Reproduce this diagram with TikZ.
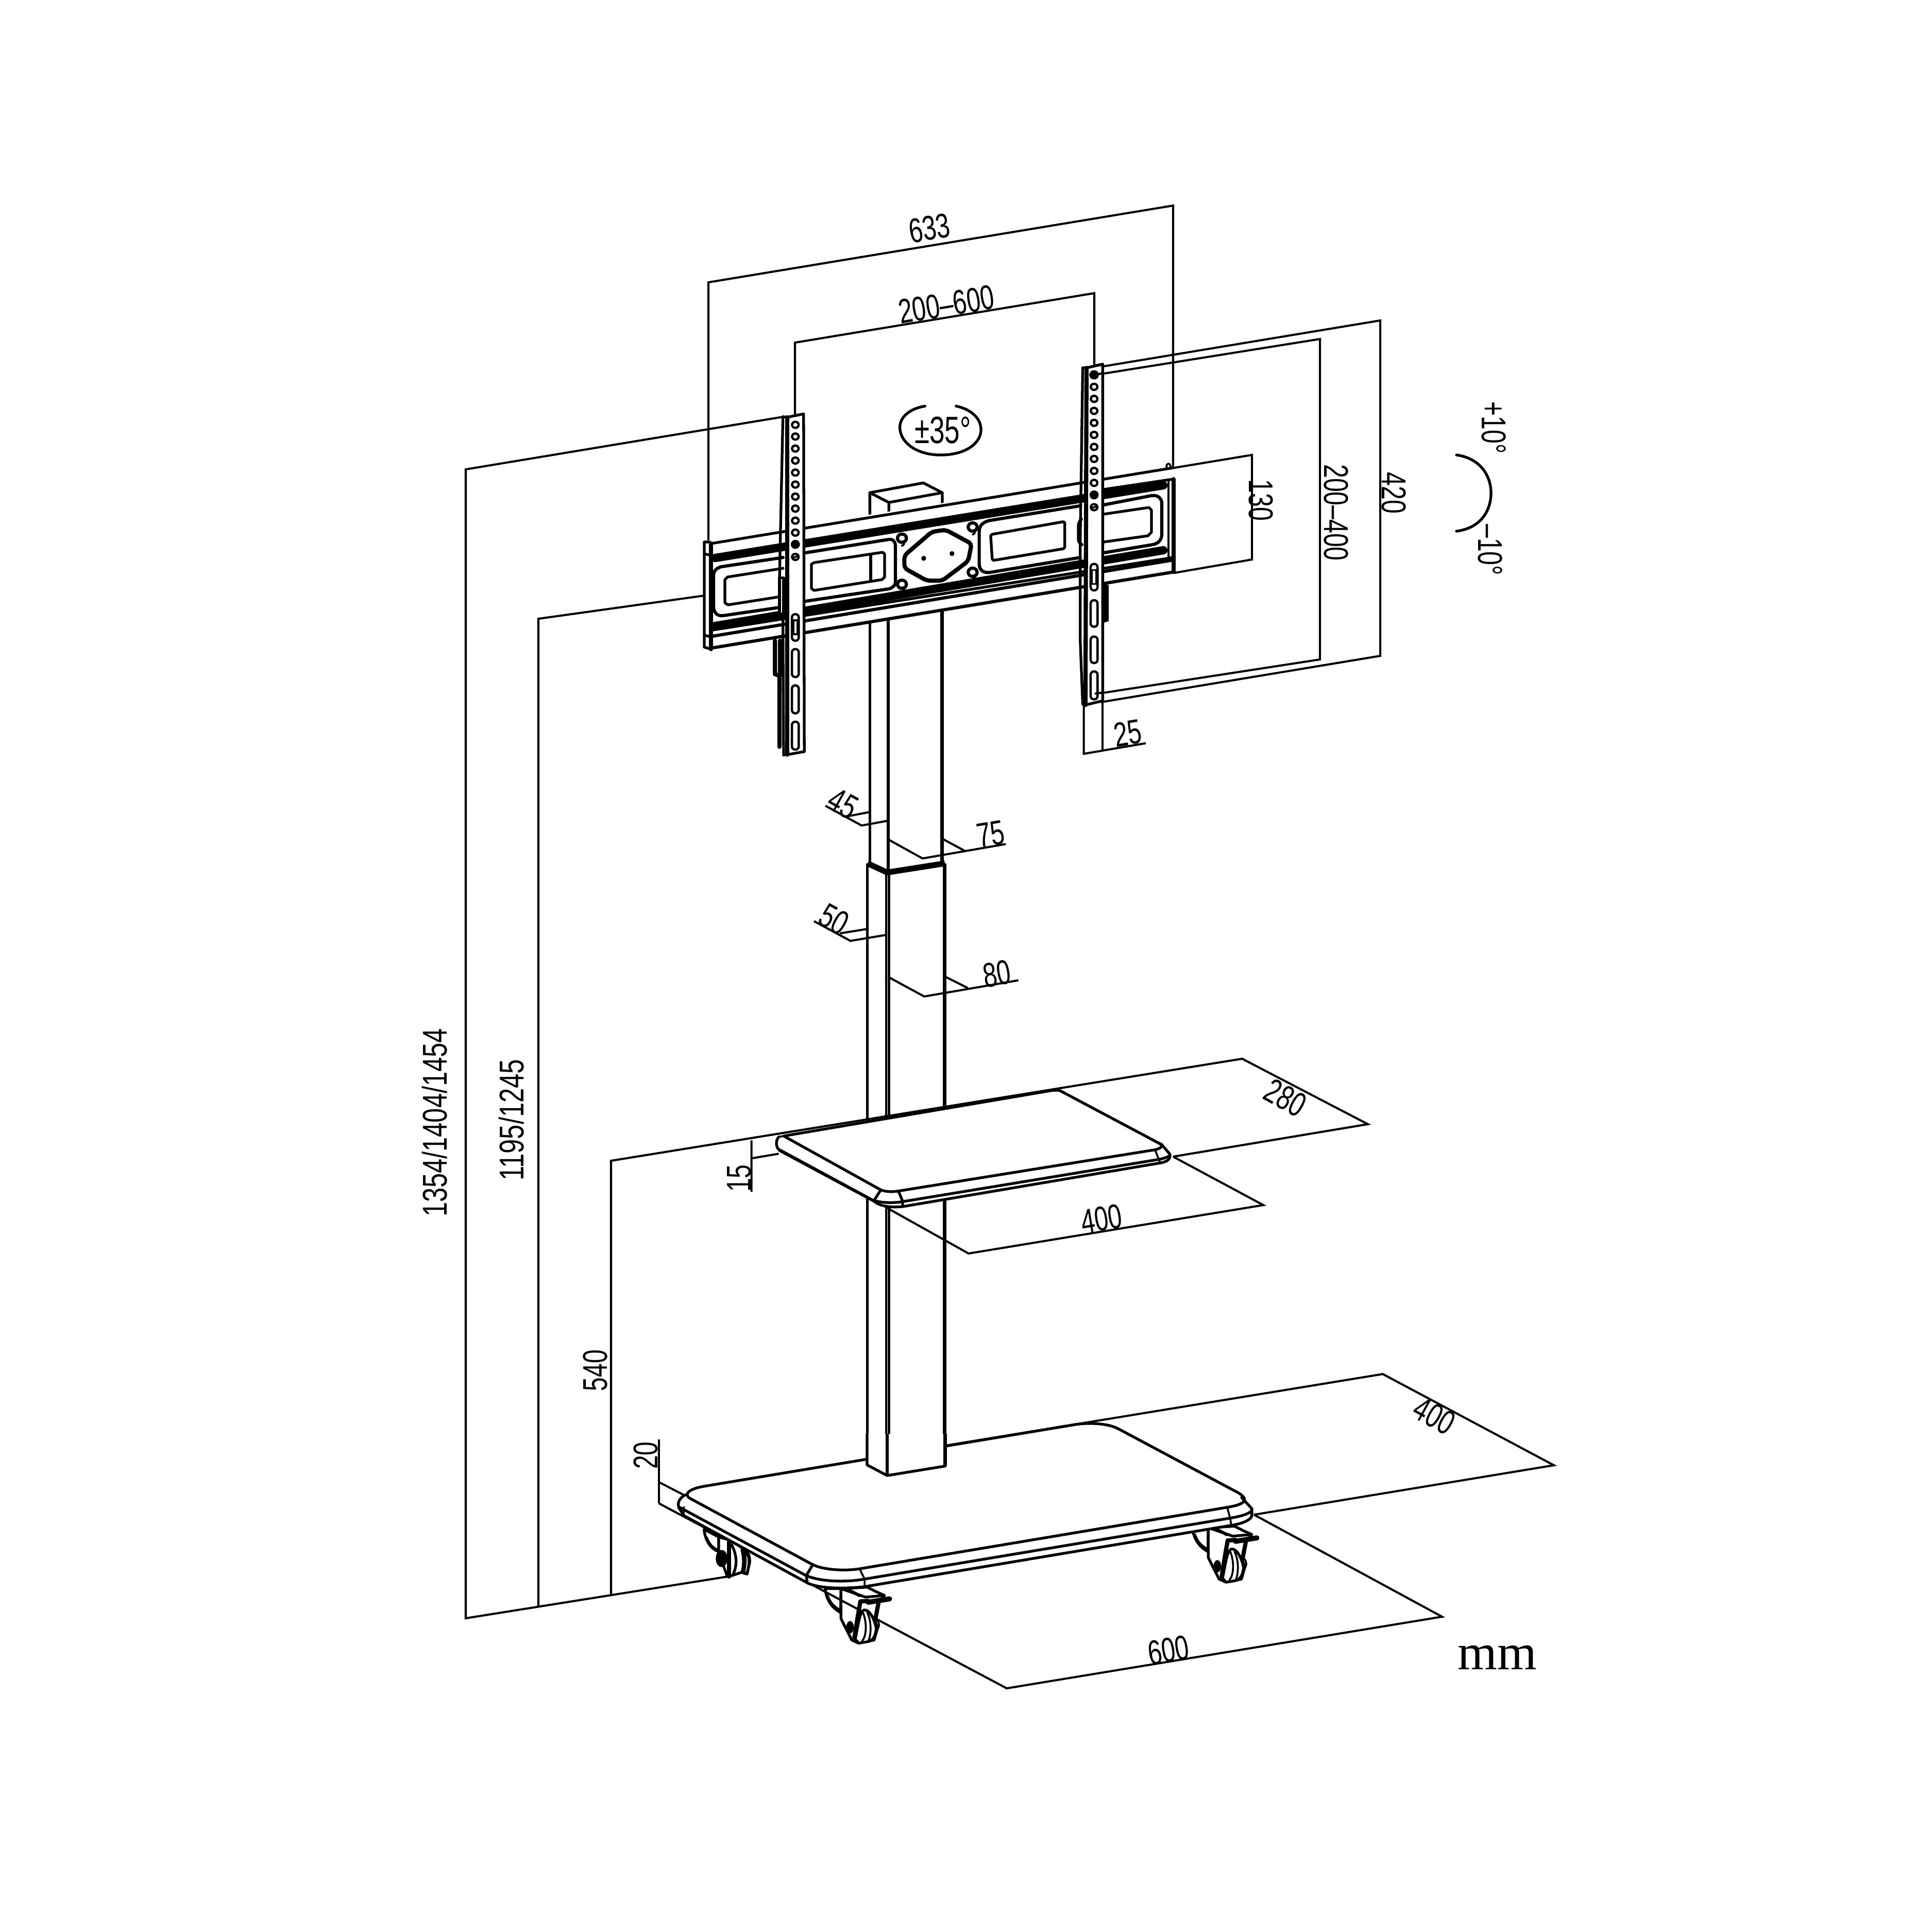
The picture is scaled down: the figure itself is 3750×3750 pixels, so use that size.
\documentclass[tikz,border=0pt]{standalone}
\usepackage{fontspec}
\setmainfont[FakeStretch=0.72]{Liberation Sans}
\newfontfamily\mmfont{Liberation Serif}
\tikzset{
 dimline/.style={line width=1.15pt,line join=miter},
 part/.style={line width=1.5pt,line join=round,line cap=round},
 win/.style={line width=1.75pt,line join=round,line cap=round},
 fine/.style={line width=1.05pt,line join=round,line cap=round},
 heavy/.style={line width=2.3pt,line join=round,line cap=round},
 stripe/.style={line width=4.6pt,line cap=round},
 holeline/.style={line width=1.25pt,line join=round},
 lbl/.style={inner sep=0pt,font=\fontsize{19}{19}\selectfont},
}
\newcommand{\ohole}[2]{\draw[holeline,fill=white] (#1,#2) circle [x radius=9.5,y radius=11];}
\newcommand{\fhole}[2]{\draw[holeline,fill=black] (#1,#2) circle [x radius=10,y radius=12];}
\newcommand{\hhole}[2]{\draw[holeline,fill=white] (#1,#2) circle [x radius=9.5,y radius=11];\draw[fine] (#1-8,#2+3)--(#1+8,#2-3);}
\newcommand{\slotp}[3]{\draw[holeline,rounded corners=1.8pt] (#1-10,#2) rectangle (#1+10,#3);}
\newcommand{\bolt}[2]{\draw[win,fill=white] (#1,#2) circle [x radius=13,y radius=15];\draw[fine] (#1+3,#2+10) arc[start angle=-60,end angle=90,x radius=7,y radius=9];}
% caster drawn in the 3x units of a crop; body first, wheel after
\newcommand{\casterbody}{%
 \draw[part,fill=white] (95,100) .. controls (100,160) and (130,210) .. (185,240)--(187,100)--cycle;
 \draw[fine] (110,140) .. controls (125,185) and (150,205) .. (182,225);
 \draw[part,fill=white] (187,105)--(187,275)--(250,400)--(290,418)--(380,400)--(400,330)--(385,290)--(405,185)--(440,140)--(395,120)--(340,92)--(200,100)--cycle;
 \draw[fine] (220,105)--(295,145) (235,105)--(300,140);
 \draw[part] (200,105)--(330,150)--(440,140);
}
\newcommand{\casterwheel}{%
 \draw[part,fill=white] (270,395) .. controls (290,300) and (295,240) .. (320,225) .. controls (350,220) and (380,270) .. (392,330) .. controls (390,380) and (370,405) .. (340,410)--(290,418)--cycle;
 \draw[fine] (315,240) .. controls (340,300) and (335,380) .. (310,405);
 \draw[fine] (340,240) .. controls (365,290) and (365,370) .. (345,408);
 \fill (240,325) circle [x radius=22,y radius=36];
 \draw[heavy] (300,175) -- (285,260) -- (265,385);
 \draw[heavy] (300,175)--(345,172);
 \draw[heavy] (405,185)--(385,290);
 \draw[fine] (395,280) .. controls (412,300) and (412,320) .. (400,335);
 \draw[line width=2.8pt,line cap=round] (345,180)--(470,160);
}
\begin{document}
\begin{tikzpicture}[x=0.01cm,y=-0.01cm]
\useasboundingbox (0,0) rectangle (3750,3750);
\fill[white] (0,0) rectangle (3750,3750);
% dimension lines
\draw[dimline] (1375,1050)--(1375,548)--(2277,399)--(2277,910);
\draw[dimline] (1543,810)--(1543,665)--(2124,569)--(2124,720);
\draw[dimline] (2130,713)--(2679,622)--(2679,1273)--(2136,1363);
\draw[dimline] (2124,728)--(2562,658)--(2562,1280)--(2127,1347);
\draw[dimline] (2279,908)--(2430,883)--(2430,1086)--(2279,1112);
\draw[dimline] (1520,809)--(904,911)--(904,3141)--(1413,3060);
\draw[dimline] (1367,1156)--(1045,1201)--(1045,3119);
\draw[dimline] (1186,3095)--(1186,2253)--(2411,2055)--(2655,2182)--(2277,2245);
\draw[dimline] (2277,2245)--(2452,2339)--(1880,2433)--(1719,2343);
% pole and its dimensions
\begin{scope}[shift={(1550,1450)},xscale=.3333,yscale=.3827]
 \draw[part] (415,-700)--(415,580);
 \draw[line width=1.9pt] (522,-700)--(522,630);
 \draw[line width=1.9pt] (835,-700)--(835,590);
 \draw[line width=1.5pt] (400,590)--(400,3640);
 \draw[line width=1.3pt] (510,640)--(510,3640) (526,640)--(526,3640);
 \draw[line width=1.9pt] (850,590)--(850,3640);
 \draw[line width=3.2pt,line join=round] (402,590)--(516,636)--(852,590);
 \draw[dimline] (157,298)--(367,398)--(525,373) (280,352)--(412,330);
 \draw[dimline] (525,470)--(722,565)--(1207,492) (843,468)--(965,525);
 \draw[dimline] (90,883)--(302,983)--(515,952) (240,945)--(397,923);
 \draw[dimline] (520,1165)--(732,1265)--(1280,1183) (855,1165)--(985,1222);
\end{scope}
% pole top
\begin{scope}[shift={(1300,650)},xscale=.6696,yscale=.5421]
 \draw[dimline] (1255,1300)--(1255,1490);
 \draw[dimline] (1380,1462)--(1200,1500)--(1200,1320);
 \draw[part,fill=white] (580,660)--(580,565)--(735,530)--(790,565)--(790,640)--cycle;
 \draw[part] (580,565)--(635,600)--(790,565) (635,600)--(635,650);
\end{scope}
% plate
\fill[white] (1367,1050)--(2277,905)--(2279,1110)--(1380,1260)--(1367,1256)--cycle;
\draw[part] (1380,1055)--(2277,908);
\draw[stripe] (1388,1083)--(2258,942);
\draw[stripe] (1388,1215)--(2258,1068);
\draw[part] (2142,950)--(2277,930);
\draw[part] (1382,1223)--(2277,1082);
\draw[win] (1382,1235)--(2277,1087);
\draw[win] (1380,1258)--(2279,1110);
\draw[part] (1367,1052)--(1367,1256) (1367,1052)--(1378,1052) (1367,1075)--(1380,1078) (1367,1233)--(1380,1236) (1367,1256)--(1380,1260);
\draw[heavy] (1380,1055)--(1380,1260);
\draw[heavy] (2278,930)--(2278,1110);
\draw[fine] (2268,935)--(2268,1080)--(2278,1087);
\draw[fine] (2268,905) circle [x radius=4,y radius=5];
% windows, left to right
\draw[win] (1520,1082)--(1400,1100) .. controls (1390,1103) and (1385,1108) .. (1385,1117)--(1385,1177) .. controls (1385,1190) and (1393,1196) .. (1403,1195)--(1520,1178);
\draw[part] (1520,1103)--(1412,1120)--(1407,1125)--(1407,1170)--(1413,1174)--(1515,1158);
\draw[win] (1563,1073)--(1725,1047) .. controls (1735,1046) and (1738,1053) .. (1738,1060)--(1738,1127) .. controls (1738,1137) and (1733,1141) .. (1725,1143)--(1563,1167);
\draw[part] (1580,1092)--(1713,1072)--(1717,1075)--(1717,1120)--(1712,1125)--(1580,1146)--(1575,1142)--(1575,1095)--cycle;
\draw[part] (1690,1076)--(1690,1126);
\draw[win] (2142,980)--(2235,962) .. controls (2248,960) and (2255,968) .. (2255,977)--(2255,1037) .. controls (2255,1048) and (2248,1055) .. (2238,1057)--(2142,1073);
\draw[part] (2142,998)--(2230,985)--(2235,990)--(2235,1033)--(2228,1040)--(2142,1052);
\begin{scope}[shift={(1300,650)},xscale=.6696,yscale=.5421]
 \draw[win] (925,665) .. controls (905,672) and (897,685) .. (897,705)--(897,820) .. controls (897,842) and (910,855) .. (930,850)--(1190,797);
 \draw[win] (925,665)--(1190,612);
 \draw[part,rounded corners=1pt] (930,715)--(1145,668)--(1145,765)--(935,808)--cycle;
 \draw[win,rounded corners=2pt,fill=white] (1193,750)--(1185,745)--(1185,670)--(1193,660);
 % centre
 \draw[heavy,rounded corners=2pt] (760,705)--(800,698)--(875,748)--(865,810)--(790,880)--(745,880)--(680,835)--(680,790)--cycle;
 \fill (736,800) circle [x radius=7,y radius=9] (818,783) circle [x radius=7,y radius=9];
 \bolt{673}{728}\bolt{878}{688}\bolt{673}{893}\bolt{878}{850}
 % left strip
 \draw[part] (328,293)--(318,880);
 \draw[part,fill=white] (318,870)--(318,1000)--(330,1000)--(330,870)--cycle;
 \draw[part] (328,1000)--(330,1505);
 \draw[heavy] (305,1095)--(305,1215)--(318,1220)--(318,1475);
 \draw[heavy] (320,1095)--(320,1220);
 \draw[part,fill=white] (340,295)--(388,283)--(390,1492)--(340,1503)--cycle;
 \draw[heavy] (340,295)--(340,1503);
 \draw[part] (328,293)--(340,295) (330,1503)--(340,1503);
 \foreach \Y in {322,364,407,450,493,536,579,622,665,708} {\ohole{364}{\Y}}
 \fhole{364}{750}\hhole{364}{795}
 \slotp{364}{1000}{1095}\slotp{364}{1125}{1225}\slotp{364}{1255}{1355}\slotp{364}{1385}{1485}
 \draw[fine] (358,1022) rectangle (370,1072);
 % right strip
 \draw[part] (1197,118)--(1190,720)--(1190,1100)--(1197,1322);
 \fill (1255,895)--(1272,895)--(1272,1025)--(1260,1030)--(1255,1030)--cycle;
 \draw[part,fill=white] (1208,118)--(1255,105)--(1255,1310)--(1205,1325)--cycle;
 \draw[heavy] (1208,118)--(1205,1325);
 \draw[part] (1197,118)--(1208,118) (1197,1322)--(1205,1325);
 \foreach \Y in {186,229,272,315,358,401,444,487,530} {\ohole{1230}{\Y}}
 \fhole{1230}{573}\hhole{1230}{617}
 \draw[line width=2pt,fill=white] (1230,143) circle [x radius=9,y radius=10];
 \fill (1230,143) circle [x radius=4,y radius=5];
 \slotp{1230}{820}{915}\slotp{1230}{950}{1045}\slotp{1230}{1080}{1175}\slotp{1230}{1205}{1305}
 \draw[fine] (1224,842) rectangle (1236,892);
 \draw[dimline] (1230,143)--(1258,137) (1232,1285)--(1258,1280) (1236,108)--(1258,104);
 % rotation sign
 \draw[part] (740,255) .. controls (690,265) and (665,300) .. (667,335) .. controls (670,390) and (720,430) .. (785,430) .. controls (860,430) and (905,385) .. (902,335) .. controls (900,295) and (870,265) .. (830,255);
\end{scope}
% shelf
\begin{scope}[shift={(1400,2100)},xscale=.6378,yscale=.3333]
 \draw[dimline] (92,340)--(92,640) (92,445)--(175,418);
 \fill[white] (175,320) .. controls (165,340) and (165,380) .. (178,400)--(465,695) .. controls (480,720) and (510,735) .. (555,725)--(1335,472) .. controls (1360,465) and (1368,445) .. (1365,420)--(1338,360)--(1030,48)--(1010,50)--(190,315)--cycle;
 \draw[part] (175,320) .. controls (165,340) and (165,380) .. (178,400)--(465,695) .. controls (480,720) and (510,735) .. (555,725)--(1335,472) .. controls (1360,465) and (1368,445) .. (1365,420)--(1338,360);
 \draw[part] (190,315)--(1005,50) .. controls (1015,48) and (1025,46) .. (1032,52)--(1335,360) .. controls (1345,375) and (1340,385) .. (1320,395)--(540,635) .. controls (520,642) and (495,640) .. (482,625)--cycle;
 \draw[fine] (178,393)--(465,690) (190,315)--(175,320);
 \draw[part] (485,630)--(465,690) (540,640)--(552,695)--(552,722);
 \draw[part] (465,690) .. controls (480,702) and (520,708) .. (552,697)--(1335,450) .. controls (1355,440) and (1365,435) .. (1365,420);
 \draw[fine] (1320,395)--(1335,468);
\end{scope}
% casters under the base
\begin{scope}[shift={(1340,2960)},xscale=.3333,yscale=.3333]
 \draw[part,fill=white] (80,25) .. controls (85,90) and (120,140) .. (165,155)--(165,70)--cycle;
 \draw[fine] (95,70) .. controls (110,110) and (130,130) .. (160,145);
 \draw[part,fill=white] (165,70)--(165,160)--(215,300)--(225,300)--(300,275)--(310,280)--(330,285)--(345,220) .. controls (350,180) and (330,150) .. (310,140)--(240,90)--cycle;
 \draw[heavy] (225,95)--(225,300);
 \draw[part] (240,115) .. controls (270,170) and (275,230) .. (250,285);
 \draw[part] (300,145) .. controls (312,190) and (312,240) .. (300,275);
 \draw[part] (315,145) .. controls (350,180) and (345,220) .. (330,285)--(310,280) .. controls (320,240) and (322,190) .. (315,145);
 \draw[heavy,fill=white] (182,195) circle [x radius=22,y radius=38];
 \fill (178,195) circle [x radius=14,y radius=34];
\end{scope}
\begin{scope}[shift={(1570,3050)},xscale=.3333,yscale=.3333]
 \begin{scope}[shift={(2139,-355)}]\casterbody\casterwheel\end{scope}
 \casterbody
\end{scope}
\draw[dimline] (1279,2918)--(1954,3277)--(2799,3138)--(2434,2940);
\draw[dimline] (2434,2940)--(3016,2844)--(2684,2667)--(1834,2806);
\draw[dimline] (1366,2885)--(1683,2832);
\begin{scope}[shift={(1570,3050)},xscale=.3333,yscale=.3333]
 \casterwheel
\end{scope}
% base
\begin{scope}[shift={(1250,2750)},xscale=.7972,yscale=.3333]
 \draw[dimline] (36,133)--(36,505);
 \draw[dimline] (36,380)--(105,465);
 \fill[white] (100,455) .. controls (82,480) and (82,510) .. (85,530)--(97,575)--(400,970) .. controls (425,995) and (470,1005) .. (535,990)--(1430,632) .. controls (1465,620) and (1482,590) .. (1480,570)--(1480,535)--(1455,470)--(1150,60)--(1080,35)--(1050,45)--(145,405)--cycle;
 \draw[part] (100,455) .. controls (82,480) and (82,510) .. (85,530)--(97,575)--(400,970) .. controls (425,995) and (470,1005) .. (535,990)--(1430,632) .. controls (1465,620) and (1482,590) .. (1480,570)--(1480,535)--(1455,470);
 \draw[part] (145,405)--(1050,45) .. controls (1085,32) and (1130,38) .. (1155,70)--(1445,440) .. controls (1475,480) and (1465,510) .. (1420,527)--(525,885) .. controls (485,900) and (435,890) .. (410,860)--(112,475) .. controls (95,450) and (110,420) .. (145,405)--cycle;
 \draw[part] (85,525)--(395,925);
 \draw[part] (410,865)--(395,925)--(397,960);
 \draw[part] (395,925) .. controls (430,960) and (490,965) .. (537,945)--(1427,590) .. controls (1465,575) and (1480,555) .. (1480,540);
 \draw[fine] (525,885)--(537,945)--(537,990) (1420,527)--(1427,590)--(1430,632) (97,525)--(97,575);
 % pole foot stands on the base
 \fill[white] (543,100)--(733,100)--(733,287)--(592,342)--(543,280)--cycle;
 \draw[part] (543,100)--(543,280)--(592,342)--(733,287);
 \draw[line width=1.9pt] (733,100)--(733,287);
 \draw[line width=1.9pt] (592,100)--(592,342);
\end{scope}
% the +/-10 arc
\draw[part] (2827,883) .. controls (2875,890) and (2894,925) .. (2894,957) .. controls (2894,990) and (2875,1025) .. (2827,1031);
% labels
\node[lbl,rotate=9.4]  (l633) at (1804,443) {633};
\node[lbl,rotate=9.4]  (l200) at (1837,591) {200–600};
\node[lbl,font=\fontsize{21}{21}\selectfont] (lrot) at (1830,835) {±35°};
\node[lbl,rotate=-90]  (lup)  at (2899,830) {+10°};
\node[lbl,rotate=-90]  (ldn)  at (2892,1067) {–10°};
\node[lbl,rotate=-90]  (l130) at (2447,971) {130};
\node[lbl,rotate=-90]  (l204) at (2593,995) {200–400};
\node[lbl,rotate=-90]  (l420) at (2705,957) {420};
\node[lbl,rotate=9.4]  (l25)  at (2189,1423) {25};
\node[lbl,rotate=-29]  (l45)  at (1636,1560) {45};
\node[lbl,rotate=9.4]  (l75)  at (1923,1619) {75};
\node[lbl,rotate=-29]  (l50)  at (1619,1784) {50};
\node[lbl,rotate=9.4]  (l80)  at (1935,1890) {80};
\node[lbl,rotate=-29]  (l280) at (2495,2131) {280};
\node[lbl,rotate=90]   (l15)  at (1435,2287) {15};
\node[lbl,rotate=9.4]  (l400) at (2138,2366) {400};
\node[lbl,rotate=90]   (l540) at (1155,2660) {540};
\node[lbl,rotate=90,xscale=1.05]   (l119) at (993,2174) {1195/1245};
\node[lbl,rotate=90,xscale=1.05]   (l135) at (844,2179) {1354/1404/1454};
\node[lbl,rotate=90]   (l20)  at (1253,2825) {20};
\node[lbl,rotate=-29]  (l40b) at (2784,2748) {400};
\node[lbl,rotate=9.4]  (l600) at (2268,3203) {600};
\node[inner sep=0pt,font=\mmfont\fontsize{28}{28}\selectfont] (lmm) at (2906,3217) {mm};
\end{tikzpicture}
\end{document}
